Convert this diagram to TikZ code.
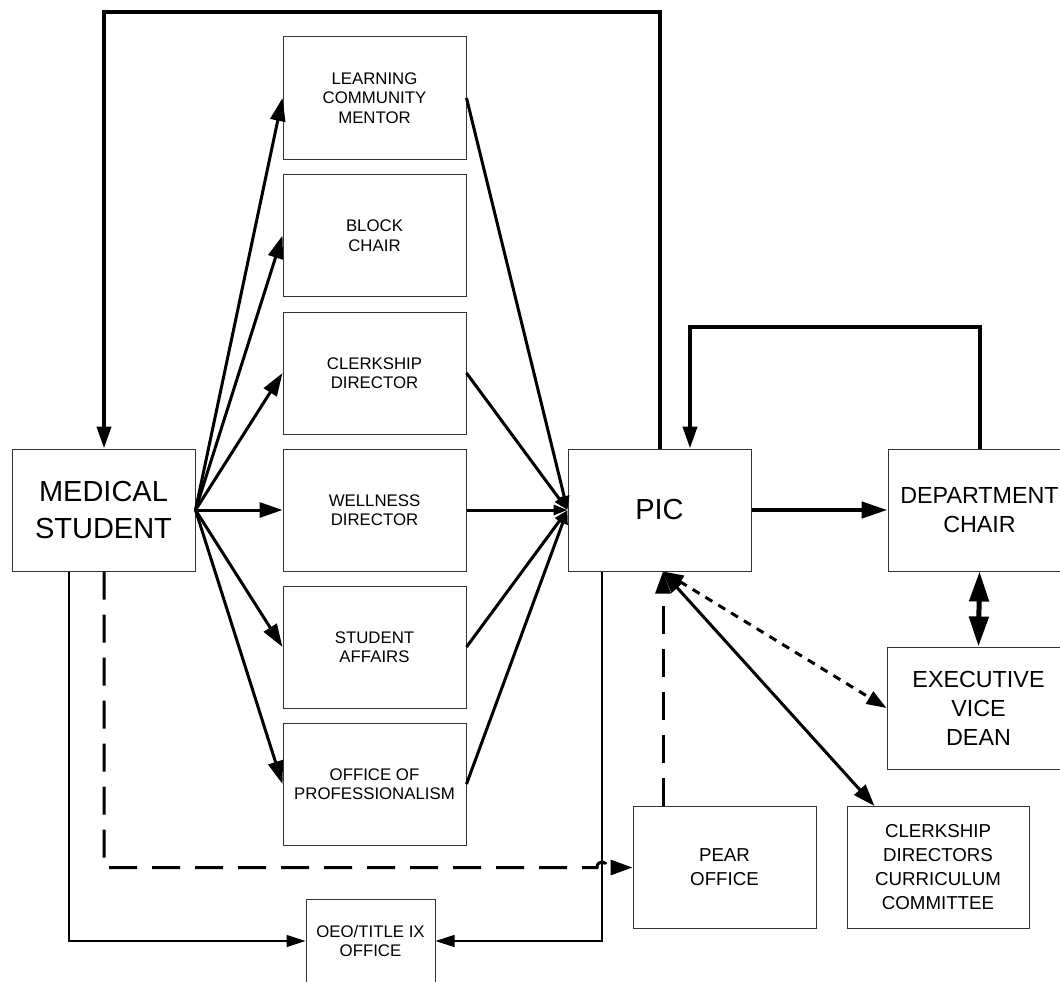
\documentclass[tikz,border=0pt]{standalone}
\usepackage{fontspec}
\setmainfont{Liberation Sans}
\usetikzlibrary{arrows.meta}

\begin{document}
\begin{tikzpicture}[x=1pt,y=-1pt,
        box/.style={draw=black!80, line width=1pt, minimum width=183pt, minimum height=122pt, inner sep=0pt, align=center},
        smalltext/.style={font=\fontsize{16.8}{19.5}\selectfont},
        bigtext/.style={font=\fontsize{29}{36.5}\selectfont},
        midtext/.style={font=\fontsize{23.3}{29}\selectfont},
        pagetext/.style={font=\fontsize{18.7}{24}\selectfont},
        fan/.style={line width=3pt, -{Triangle[length=23pt,width=15pt]}},
        topic/.style={line width=3pt, -{Triangle[length=14pt,width=10pt]}},
        loopline/.style={line width=4pt, -{Triangle[length=22pt,width=14pt]}},
        thinline/.style={line width=1.2pt, -{Triangle[length=19pt,width=12pt]}},
        dashline/.style={line width=3pt, dash pattern=on 28pt off 15pt, -{Triangle[length=22pt,width=15pt]}}]
    \useasboundingbox (0,0) rectangle (1060,982);

    % boxes
    \node[box, bigtext] (stud) at (103.5,510) {MEDICAL\\STUDENT};
    \node[box, smalltext] (lcm) at (374.5,98) {LEARNING\\COMMUNITY\\MENTOR};
    \node[box, smalltext] (block) at (374.5,235.5) {BLOCK\\CHAIR};
    \node[box, smalltext] (clerk) at (374.5,373) {CLERKSHIP\\DIRECTOR};
    \node[box, smalltext] (well) at (374.5,510) {WELLNESS\\DIRECTOR};
    \node[box, smalltext] (affairs) at (374.5,647) {STUDENT\\AFFAIRS};
    \node[box, smalltext] (prof) at (374.5,784) {OFFICE OF\\PROFESSIONALISM};
    \node[box, bigtext] (pic) at (659.5,510) {PIC};
    \node[box, midtext] (dept) at (979.5,510) {DEPARTMENT\\CHAIR};
    \node[box, midtext] (evd) at (978.5,708) {EXECUTIVE\\VICE\\DEAN};
    \node[box, pagetext] (pear) at (724.5,867.5) {PEAR\\OFFICE};
    \node[box, pagetext, minimum width=182pt] (cdcc) at (938,867.5) {CLERKSHIP\\DIRECTORS\\CURRICULUM\\COMMITTEE};
    \node[box, smalltext, minimum width=129pt, minimum height=84pt] (oeo) at (370.5,941) {OEO/TITLE IX\\OFFICE};

    \coordinate (ltop) at (104,12);
    \coordinate (dtop) at (690,327);

    % student to the column, column to PIC
    \foreach \n in {lcm,block,clerk,well,affairs,prof}
        \draw[fan] (stud.east) -- (\n.west);
    \foreach \n in {lcm,clerk,well,affairs,prof}
        \draw[topic] (\n.east) -- (pic.west);

    % loops over the top
    \draw[loopline] (pic.north) |- (ltop) -- (ltop |- stud.north);
    \draw[loopline] (dept.north) |- (dtop) -- (dtop |- pic.north);

    \draw[line width=4.5pt, -{Triangle[length=26pt,width=16pt]}] (pic.east) -- (dept.west);
    \draw[line width=5pt, {Triangle[length=30pt,width=19pt]}-{Triangle[length=30pt,width=19pt]}] (dept.south) -- (evd.north);

    % below PIC
    \draw[line width=3pt, dash pattern=on 8pt off 7pt, {Triangle[length=20pt,width=14pt]}-{Triangle[length=20pt,width=14pt]}] ([xshift=4]pic.south) -- (evd.west);
    \draw[line width=3pt, {Triangle[length=22pt,width=15pt]}-{Triangle[length=22pt,width=15pt]}] ([xshift=3]pic.south) -- ([xshift=28]cdcc.north west);
    \draw[dashline] ([xshift=-61.5]pear.north) -- ([xshift=-61.5]pear.north |- pic.south);

    % OEO
    \draw[thinline] ([xshift=-34.5]stud.south) |- (oeo.west);
    \draw[thinline] ([xshift=-57.5]pic.south) |- (oeo.east);

    % student to PEAR, hopping the line
    \draw[dashline] ([xshift=0.5]stud.south) |- (597,867.5)
        .. controls (597,860) and (607,860) .. (607,867.5) -- (pear.west);
\end{tikzpicture}
\end{document}
